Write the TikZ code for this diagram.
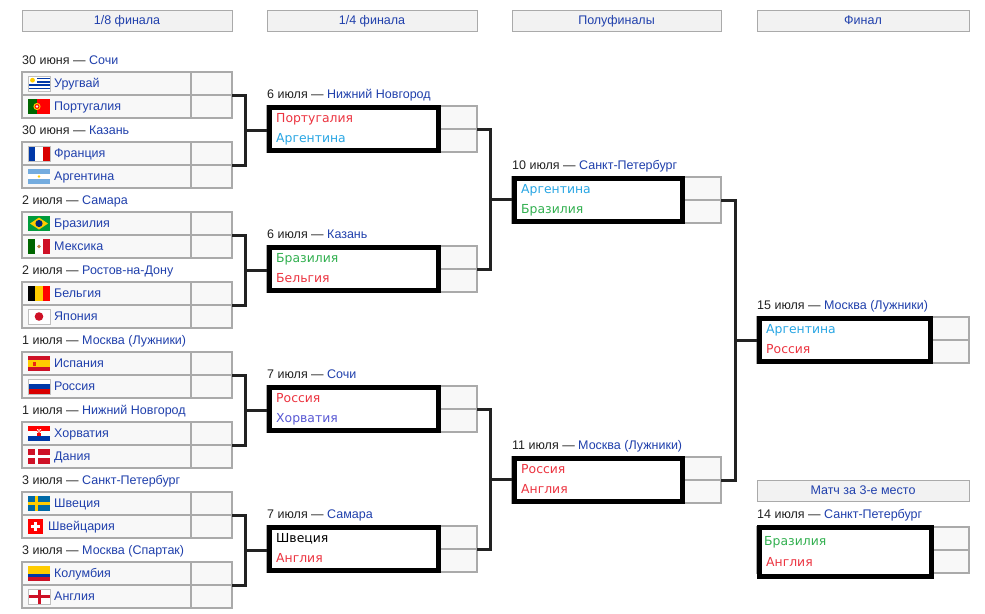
\documentclass[tikz,border=0pt]{standalone}
\usepackage{fontspec}
\setmainfont{Liberation Sans}
\newfontfamily\djv{DejaVu Sans}
\usetikzlibrary{calc}
\definecolor{lnk}{RGB}{32,64,172}
\definecolor{txt}{RGB}{34,34,34}
\definecolor{cellbd}{RGB}{170,170,170}
\definecolor{cellbg}{RGB}{248,248,248}
\definecolor{hdrbg}{RGB}{242,242,242}
\definecolor{wred}{RGB}{236,52,64}
\definecolor{wblue}{RGB}{40,166,228}
\definecolor{wgreen}{RGB}{50,176,80}
\definecolor{wviolet}{RGB}{88,88,212}
\definecolor{fblue}{RGB}{0,56,168}
\definecolor{fred}{RGB}{206,17,38}
\definecolor{fgreen}{RGB}{0,102,0}
\definecolor{fyellow}{RGB}{255,204,0}
\definecolor{fsky}{RGB}{116,172,223}
\definecolor{bgreen}{RGB}{0,156,59}
\definecolor{bblue}{RGB}{0,39,118}
\definecolor{sblue}{RGB}{0,106,167}
\newcommand\fs{\fontsize{12.5}{15}\selectfont}
\newcommand\fb{\djv\fontsize{12.4}{14}\selectfont}
\tikzset{
 cell/.style={draw=cellbd, fill=cellbg, line width=1.2pt, anchor=north west, inner sep=0pt, outer sep=0pt, minimum height=23pt},
 hdr/.style={draw=cellbd, fill=hdrbg, line width=1pt, anchor=north west, inner sep=0pt, outer sep=0pt, minimum height=21pt, text height=9pt, text depth=2pt, font=\fs, text=lnk},
 lbl/.style={anchor=base west, inner sep=0pt, font=\fs, text=txt},
 team/.style={anchor=base west, inner sep=0pt, font=\fs, text=lnk},
 bteam/.style={anchor=base west, inner sep=0pt, font=\fb},
 winbox/.style={draw=black, fill=white, line width=4.8pt, anchor=north west, inner sep=0pt},
 conn/.style={draw=txt, line width=3pt, line join=miter},
 flagbd/.style={draw=black!25, line width=0.5pt},
}
% flags, 22x15, top-left at (#1,#2)
\newcommand\fURY[2]{\begin{scope}[shift={(#1,#2)}]
 \fill[white] (0,0) rectangle (22,15);
 \foreach \i in {1,3,5,7} \fill[fblue] (0,\i*15/9) rectangle (22,\i*15/9+15/9);
 \fill[white] (0,0) rectangle (9,8.33);
 \fill[fyellow] (4.5,4.2) circle (2.4);
 \draw[flagbd] (0,0) rectangle (22,15);
\end{scope}}
\newcommand\fPOR[2]{\begin{scope}[shift={(#1,#2)}]
 \fill[fgreen] (0,0) rectangle (9,15);
 \fill[red] (9,0) rectangle (22,15);
 \fill[fyellow] (9,7.5) circle (3.6);
 \fill[red] (9,7.5) circle (2.4);
 \fill[white] (9,7.5) circle (1.3);
\end{scope}}
\newcommand\fFRA[2]{\begin{scope}[shift={(#1,#2)}]
 \fill[fblue] (0,0) rectangle (7.33,15);
 \fill[white] (7.33,0) rectangle (14.67,15);
 \fill[red!85!black] (14.67,0) rectangle (22,15);
 \draw[flagbd] (0,0) rectangle (22,15);
\end{scope}}
\newcommand\fARG[2]{\begin{scope}[shift={(#1,#2)}]
 \fill[fsky] (0,0) rectangle (22,5);
 \fill[white] (0,5) rectangle (22,10);
 \fill[fsky] (0,10) rectangle (22,15);
 \fill[fyellow] (11,7.5) circle (1.4);
\end{scope}}
\newcommand\fBRA[2]{\begin{scope}[shift={(#1,#2)}]
 \fill[bgreen] (0,0) rectangle (22,15);
 \fill[fyellow] (2,7.5) -- (11,1.5) -- (20,7.5) -- (11,13.5) -- cycle;
 \fill[bblue] (11,7.5) circle (3.6);
\end{scope}}
\newcommand\fMEX[2]{\begin{scope}[shift={(#1,#2)}]
 \fill[fgreen] (0,0) rectangle (7.33,15);
 \fill[white] (7.33,0) rectangle (14.67,15);
 \fill[fred] (14.67,0) rectangle (22,15);
 \fill[brown] (11,7.5) circle (1.8);
\end{scope}}
\newcommand\fBEL[2]{\begin{scope}[shift={(#1,#2)}]
 \fill[black] (0,0) rectangle (7.33,15);
 \fill[fyellow] (7.33,0) rectangle (14.67,15);
 \fill[red] (14.67,0) rectangle (22,15);
\end{scope}}
\newcommand\fJPN[2]{\begin{scope}[shift={(#1,#2)}]
 \fill[white] (0,0) rectangle (22,15);
 \fill[fred] (11,7.5) circle (4.3);
 \draw[flagbd] (0,0) rectangle (22,15);
\end{scope}}
\newcommand\fESP[2]{\begin{scope}[shift={(#1,#2)}]
 \fill[fred] (0,0) rectangle (22,15);
 \fill[fyellow] (0,3.75) rectangle (22,11.25);
 \fill[red!70!brown] (5,6) rectangle (8,9.5);
\end{scope}}
\newcommand\fRUS[2]{\begin{scope}[shift={(#1,#2)}]
 \fill[white] (0,0) rectangle (22,5);
 \fill[fblue] (0,5) rectangle (22,10);
 \fill[red!85!black] (0,10) rectangle (22,15);
 \draw[flagbd] (0,0) rectangle (22,15);
\end{scope}}
\newcommand\fCRO[2]{\begin{scope}[shift={(#1,#2)}]
 \fill[red] (0,0) rectangle (22,5);
 \fill[white] (0,5) rectangle (22,10);
 \fill[fblue] (0,10) rectangle (22,15);
 \fill[red] (9,3) rectangle (13,9.5);
 \fill[white] (9,3) rectangle (10.3,4.3) (11.6,3) rectangle (13,4.3) (10.3,4.3) rectangle (11.6,5.6) (9,5.6) rectangle (10.3,6.9) (11.6,5.6) rectangle (13,6.9);
\end{scope}}
\newcommand\fDEN[2]{\begin{scope}[shift={(#1,#2)}]
 \fill[fred] (0,0) rectangle (22,15);
 \fill[white] (7,0) rectangle (9.8,15);
 \fill[white] (0,6.1) rectangle (22,8.9);
\end{scope}}
\newcommand\fSWE[2]{\begin{scope}[shift={(#1,#2)}]
 \fill[sblue] (0,0) rectangle (22,15);
 \fill[fyellow] (7,0) rectangle (10,15);
 \fill[fyellow] (0,6) rectangle (22,9);
\end{scope}}
\newcommand\fSUI[2]{\begin{scope}[shift={(#1,#2)}]
 \fill[red] (0,0) rectangle (15,15);
 \fill[white] (3,6) rectangle (12,9);
 \fill[white] (6,3) rectangle (9,12);
\end{scope}}
\newcommand\fCOL[2]{\begin{scope}[shift={(#1,#2)}]
 \fill[fyellow] (0,0) rectangle (22,7.5);
 \fill[fblue] (0,7.5) rectangle (22,11.25);
 \fill[fred] (0,11.25) rectangle (22,15);
\end{scope}}
\newcommand\fENG[2]{\begin{scope}[shift={(#1,#2)}]
 \fill[white] (0,0) rectangle (22,15);
 \fill[fred] (9.5,0) rectangle (12.5,15);
 \fill[fred] (0,6) rectangle (22,9);
 \draw[flagbd] (0,0) rectangle (22,15);
\end{scope}}
% round of 16 match: id, top, date, city, flag1, team1, flag2, team2, x of team2
\newcommand\rmatch[9]{
 \node[lbl] (#1l) at (22,#2-7.5) {#3 — \textcolor{lnk}{#4}};
 \node[cell, minimum width=169pt] (#1a) at (22,#2) {};
 \node[cell, minimum width=41pt] (#1as) at (191,#2) {};
 \node[cell, minimum width=169pt] (#1b) at (22,#2+23) {};
 \node[cell, minimum width=41pt] (#1bs) at (191,#2+23) {};
 #5{28}{#2+4}
 #7{28}{#2+27}
 \node[team] (#1at) at (54,#2+15.8) {#6};
 \node[team] (#1bt) at (#9,#2+38.8) {#8};
}
% later match: id, top, x, name width, date, city, team1, team2
\newcommand\qmatch[8]{
 \node[lbl] (#1l) at (#3,#2-8) {#5 — \textcolor{lnk}{#6}};
 \node[cell, minimum width=#4pt] (#1a) at (#3,#2) {};
 \node[cell, minimum width=37pt] (#1as) at (#3+#4,#2) {};
 \node[cell, minimum width=#4pt] (#1b) at (#3,#2+23) {};
 \node[cell, minimum width=37pt] (#1bs) at (#3+#4,#2+23) {};
 \node[winbox, minimum width={#4-3.8}, minimum height=43.2pt] (#1) at (#3,#2-1) {};
 \node[bteam] (#1at) at (#3+9,#2+16.5) {#7};
 \node[bteam] (#1bt) at (#3+9,#2+36) {#8};
}
\begin{document}
\begin{tikzpicture}[x=1pt,y=-1pt]
\useasboundingbox (0,0) rectangle (985,613);
\fill[white] (0,0) rectangle (985,613);
% headers
\node[hdr, minimum width=210pt] (h1) at (22,10) {1/8 финала};
\node[hdr, minimum width=210pt] (h2) at (267,10) {1/4 финала};
\node[hdr, minimum width=209pt] (h3) at (512,10) {Полуфиналы};
\node[hdr, minimum width=212pt] (h4) at (757,10) {Финал};
% round of 16
\rmatch{m0}{72}{30 июня}{Сочи}{\fURY}{Уругвай}{\fPOR}{Португалия}{54}
\rmatch{m1}{142}{30 июня}{Казань}{\fFRA}{Франция}{\fARG}{Аргентина}{54}
\rmatch{m2}{212}{2 июля}{Самара}{\fBRA}{Бразилия}{\fMEX}{Мексика}{54}
\rmatch{m3}{282}{2 июля}{Ростов-на-Дону}{\fBEL}{Бельгия}{\fJPN}{Япония}{54}
\rmatch{m4}{352}{1 июля}{Москва (Лужники)}{\fESP}{Испания}{\fRUS}{Россия}{54}
\rmatch{m5}{422}{1 июля}{Нижний Новгород}{\fCRO}{Хорватия}{\fDEN}{Дания}{54}
\rmatch{m6}{492}{3 июля}{Санкт-Петербург}{\fSWE}{Швеция}{\fSUI}{Швейцария}{48}
\rmatch{m7}{562}{3 июля}{Москва (Спартак)}{\fCOL}{Колумбия}{\fENG}{Англия}{54}
% quarter-finals
\qmatch{q0}{106}{267}{173}{6 июля}{Нижний Новгород}{\textcolor{wred}{Португалия}}{\textcolor{wblue}{Аргентина}}
\qmatch{q1}{246}{267}{173}{6 июля}{Казань}{\textcolor{wgreen}{Бразилия}}{\textcolor{wred}{Бельгия}}
\qmatch{q2}{386}{267}{173}{7 июля}{Сочи}{\textcolor{wred}{Россия}}{\textcolor{wviolet}{Хорватия}}
\qmatch{q3}{526}{267}{173}{7 июля}{Самара}{\textcolor{black}{Швеция}}{\textcolor{wred}{Англия}}
% semi-finals
\qmatch{s0}{177}{512}{172}{10 июля}{Санкт-Петербург}{\textcolor{wblue}{Аргентина}}{\textcolor{wgreen}{Бразилия}}
\qmatch{s1}{457}{512}{172}{11 июля}{Москва (Лужники)}{\textcolor{wred}{Россия}}{\textcolor{wred}{Англия}}
% final
\qmatch{f0}{317}{757}{175}{15 июля}{Москва (Лужники)}{\textcolor{wblue}{Аргентина}}{\textcolor{wred}{Россия}}
% third place
\node[hdr, minimum width=212pt] (h5) at (757,480) {Матч за 3-е место};
\node[lbl] (t0l) at (757,518) {14 июля — \textcolor{lnk}{Санкт-Петербург}};
\node[cell, minimum width=175pt] (t0a) at (757,527) {};
\node[cell, minimum width=37pt] (t0as) at (932,527) {};
\node[cell, minimum width=175pt] (t0b) at (757,550) {};
\node[cell, minimum width=37pt] (t0bs) at (932,550) {};
\node[winbox, minimum width=172.2pt, minimum height=49.2pt] (t0) at (757,525) {};
\node[bteam, text=wgreen] (t0at) at (764,545.5) {Бразилия};
\node[bteam, text=wred] (t0bt) at (766,566.5) {Англия};
% connectors round of 16 -> quarter-finals
\foreach \a/\b/\q/\j in {m0/m1/q0/j0, m2/m3/q1/j1, m4/m5/q2/j2, m6/m7/q3/j3}{
 \coordinate (\j) at ($(\a as.south east)!0.5!(\b as.south east)+(13,0)$);
 \draw[conn] (\a as.south east) -| (\j) |- (\b as.south east);
 \draw[conn] (\j) -- (\j -| \q.west);
}
% quarter-finals -> semi-finals
\foreach \a/\b/\q/\j in {q0/q1/s0/k0, q2/q3/s1/k1}{
 \coordinate (\j) at ($(\a as.south east)!0.5!(\b as.south east)+(13,0)$);
 \draw[conn] (\a as.south east) -| (\j) |- (\b as.south east);
 \draw[conn] (\j) -- (\j -| \q.west);
}
% semi-finals -> final
\coordinate (l0) at ($(s0as.south east)!0.5!(s1as.south east)+(14,0)$);
\draw[conn] (s0as.south east) -| (l0) |- (s1as.south east);
\draw[conn] (l0) -- (l0 -| f0.west);
\end{tikzpicture}
\end{document}
